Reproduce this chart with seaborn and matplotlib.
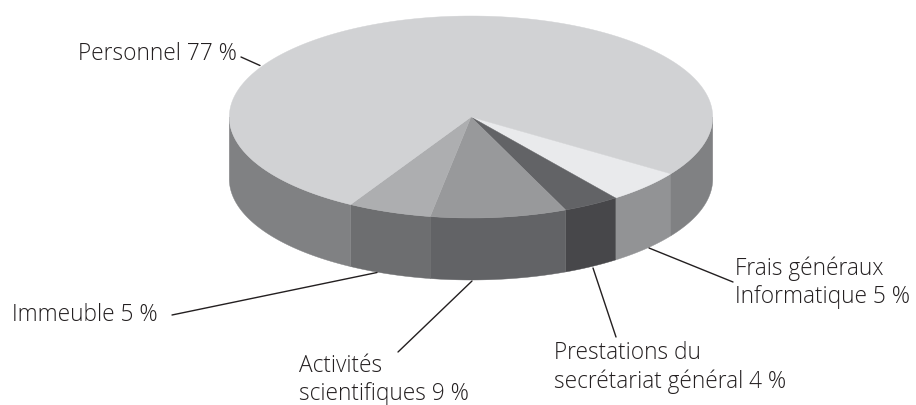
import matplotlib
matplotlib.use('Agg')
import matplotlib.pyplot as plt
import seaborn as sns
import numpy as np

# parts, en partant de Frais generaux et en tournant
noms = ['Frais généraux', 'Prestations', 'Activités', 'Immeuble', 'Personnel']
parts = [5.3, 3.8, 9.1, 5.6, 76.2]
couleurs_dessus = ['#e9eaec', '#626366', '#98999b', '#adaeb0', '#d1d2d4']
couleurs_cote = ['#929395', '#47474a', '#626366', '#6d6e70', '#808183']

labels = ['Personnel 77 %', 'Immeuble 5 %', 'Activités\nscientifiques 9 %',
          'Prestations du\nsecrétariat général 4 %', 'Frais généraux\nInformatique 5 %']
labels_pos = [(78, 60), (12, 321), (299, 400), (554, 388), (735, 303)]
traits = [((241, 57), (260, 65.5)), ((172, 315), (377, 272.5)), ((398, 352), (472, 281)),
          ((593, 268), (616, 337)), ((649, 248), (733, 282))]

cx, cy, a, b, h = 471, 117, 241.7, 101, 62
depart = 34.2

sns.set_theme(style="white")
plt.rcParams['font.family'] = ['Open Sans', 'DejaVu Sans']

fig = plt.figure(figsize=(9.16, 4.05), dpi=100)
ax = fig.add_axes([0, 0, 1, 1])
ax.set_xlim(0, 916)
ax.set_ylim(405, 0)
ax.axis('off')

bornes = depart + np.cumsum([0] + parts) * 3.6


def arc(t1, t2):
    t = np.radians(np.linspace(t1, t2, 200))
    return cx + a * np.cos(t), cy + b * np.sin(t)


# les cotes visibles (moitie avant du disque)
for i in range(len(parts)):
    for deb, fin in [(bornes[i], bornes[i + 1]), (bornes[i] - 360, bornes[i + 1] - 360)]:
        d, f = max(deb, 0), min(fin, 180)
        if d >= f:
            continue
        x, y = arc(d, f)
        ax.fill(np.r_[x, x[::-1]], np.r_[y, y[::-1] + h], color=couleurs_cote[i], lw=0.3)

# le dessus
for i in range(len(parts)):
    x, y = arc(bornes[i], bornes[i + 1])
    ax.fill(np.r_[cx, x], np.r_[cy, y], color=couleurs_dessus[i], lw=0.3)

for p1, p2 in traits:
    sns.lineplot(x=[p1[0], p2[0]], y=[p1[1], p2[1]], ax=ax, color='#231f20', lw=1,
                 sort=False, estimator=None)

for txt, (x, y) in zip(labels, labels_pos):
    ax.text(x, y, txt, fontsize=16.3, color='#231f20', ha='left', va='baseline',
            linespacing=1.24, fontweight='light')

plt.savefig('out.png', dpi=100)
